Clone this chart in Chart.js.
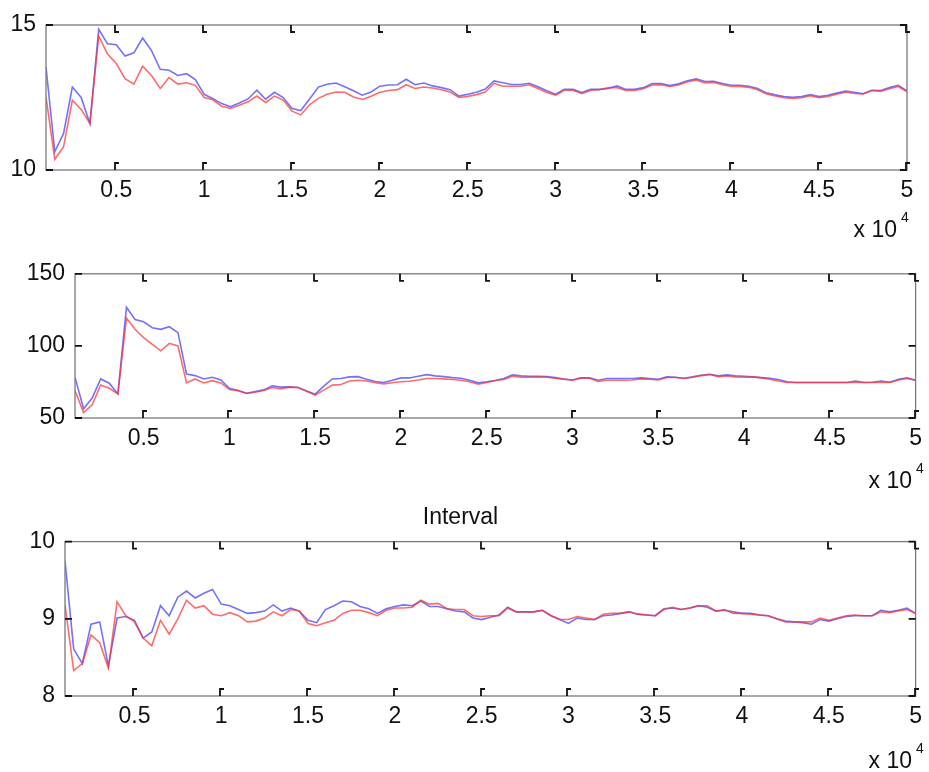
<!DOCTYPE html>
<html>
<head>
<meta charset="utf-8">
<script src="https://cdn.jsdelivr.net/npm/chart.js@4.4.1/dist/chart.umd.min.js"></script>
<style>
  body { margin: 0; background: #fff; }
  #wrap { position: relative; width: 929px; height: 772px; }
  canvas { position: absolute; left: 0; }
</style>
</head>
<body>
<div id="wrap">
  <canvas id="c1" width="929" height="250" style="top:0px"></canvas>
  <canvas id="c2" width="929" height="250" style="top:250px"></canvas>
  <canvas id="c3" width="929" height="272" style="top:500px"></canvas>
</div>
<script>
// sample positions (iterations)
const xValues = [
  1000, 1500, 2000, 2500, 3000, 3500, 4000, 4500, 5000, 5500,
  6000, 6500, 7000, 7500, 8000, 8500, 9000, 9500, 10000, 10500,
  11000, 11500, 12000, 12500, 13000, 13500, 14000, 14500, 15000, 15500,
  16000, 16500, 17000, 17500, 18000, 18500, 19000, 19500, 20000, 20500,
  21000, 21500, 22000, 22500, 23000, 23500, 24000, 24500, 25000, 25500,
  26000, 26500, 27000, 27500, 28000, 28500, 29000, 29500, 30000, 30500,
  31000, 31500, 32000, 32500, 33000, 33500, 34000, 34500, 35000, 35500,
  36000, 36500, 37000, 37500, 38000, 38500, 39000, 39500, 40000, 40500,
  41000, 41500, 42000, 42500, 43000, 43500, 44000, 44500, 45000, 45500,
  46000, 46500, 47000, 47500, 48000, 48500, 49000, 49500, 50000
];
const xTicks = [5000, 10000, 15000, 20000, 25000, 30000, 35000, 40000, 45000, 50000];

// panel 1
const p1Blue = [
  13.55, 10.63, 11.26, 12.86, 12.5, 11.6, 14.85, 14.35, 14.32, 13.93,
  14.04, 14.55, 14.12, 13.47, 13.44, 13.26, 13.32, 13.12, 12.61, 12.46,
  12.29, 12.18, 12.31, 12.45, 12.75, 12.44, 12.68, 12.5, 12.12, 12.05,
  12.45, 12.86, 12.96, 13.0, 12.87, 12.73, 12.58, 12.69, 12.89, 12.93,
  12.94, 13.13, 12.94, 13.0, 12.9, 12.84, 12.77, 12.55, 12.61, 12.68,
  12.79, 13.07, 13.01, 12.95, 12.95, 12.99, 12.87, 12.73, 12.61, 12.78,
  12.78, 12.67, 12.78, 12.78, 12.81, 12.9, 12.78, 12.78, 12.84, 12.98,
  12.98, 12.91, 12.97, 13.08, 13.14, 13.05, 13.06, 12.98, 12.92, 12.92,
  12.89, 12.81, 12.66, 12.59, 12.53, 12.51, 12.53, 12.6, 12.53, 12.58,
  12.65, 12.72, 12.68, 12.63, 12.75, 12.74, 12.84, 12.92, 12.73
];
const p1Red = [
  12.52, 10.37, 10.8, 12.41, 12.09, 11.6, 14.62, 14.0, 13.67, 13.15,
  12.96, 13.58, 13.26, 12.81, 13.19, 12.96, 13.01, 12.92, 12.5, 12.42,
  12.2, 12.12, 12.23, 12.35, 12.55, 12.33, 12.55, 12.41, 12.03, 11.9,
  12.25, 12.47, 12.61, 12.69, 12.68, 12.52, 12.43, 12.54, 12.68, 12.74,
  12.77, 12.94, 12.81, 12.86, 12.83, 12.77, 12.69, 12.5, 12.54, 12.6,
  12.69, 12.99, 12.89, 12.89, 12.89, 12.94, 12.81, 12.67, 12.58, 12.75,
  12.75, 12.63, 12.75, 12.77, 12.84, 12.84, 12.74, 12.74, 12.8, 12.93,
  12.94, 12.88, 12.93, 13.04, 13.1, 13.0, 13.02, 12.94, 12.88, 12.88,
  12.85, 12.77, 12.62, 12.55, 12.49, 12.47, 12.49, 12.56, 12.49, 12.54,
  12.61, 12.68, 12.64, 12.62, 12.74, 12.71, 12.8, 12.88, 12.7
];
const p1YTicks = [10, 15];

// panel 2
const p2Blue = [
  78.2, 56.4, 63.8, 77.1, 74.1, 66.7, 126.8, 118.3, 116.7, 112.6,
  111.5, 113.3, 109.2, 80.5, 79.4, 77.1, 78.2, 76.4, 70.6, 69.0,
  67.2, 68.4, 69.5, 72.3, 71.4, 71.6, 71.1, 68.8, 66.5, 72.1,
  77.1, 77.4, 78.5, 78.7, 76.9, 75.3, 74.6, 76.2, 77.8, 77.8,
  79.0, 80.1, 79.2, 78.7, 78.0, 77.6, 76.2, 74.4, 75.1, 76.0,
  77.4, 79.9, 79.2, 79.0, 79.0, 78.7, 78.0, 77.1, 76.4, 77.8,
  77.8, 76.2, 77.4, 77.4, 77.4, 77.4, 77.8, 77.4, 76.9, 78.5,
  78.3, 77.6, 78.5, 79.6, 80.3, 79.2, 79.9, 79.2, 79.0, 78.5,
  78.0, 77.6, 76.7, 75.1, 74.6, 74.6, 74.6, 74.6, 74.6, 74.6,
  74.6, 75.7, 74.6, 74.8, 75.7, 74.8, 76.9, 77.8, 76.2
];
const p2Red = [
  69.0, 53.7, 59.2, 72.9, 70.6, 66.7, 119.3, 111.5, 105.7, 101.1,
  96.6, 101.8, 100.0, 74.3, 77.1, 74.3, 75.9, 74.3, 69.7, 69.0,
  67.0, 67.9, 69.1, 71.1, 70.2, 71.4, 71.1, 68.6, 65.9, 69.3,
  72.8, 73.2, 75.7, 76.2, 75.7, 74.4, 73.7, 74.4, 75.1, 75.5,
  76.4, 77.4, 77.4, 77.1, 76.7, 76.2, 75.1, 73.5, 74.6, 76.0,
  76.7, 79.0, 78.3, 78.3, 78.5, 78.3, 77.6, 76.9, 76.2, 77.8,
  77.6, 75.3, 76.2, 76.2, 76.2, 76.4, 77.1, 76.9, 76.4, 78.1,
  78.1, 77.4, 78.3, 79.4, 80.1, 78.7, 79.2, 78.5, 78.3, 78.5,
  77.8, 76.9, 75.7, 74.6, 74.6, 74.6, 74.6, 74.6, 74.6, 74.6,
  74.6, 74.8, 74.6, 74.6, 74.8, 74.6, 76.4, 77.4, 76.2
];
const p2YTicks = [50, 100, 150];

// panel 3 (Interval)
const p3Blue = [
  9.75, 8.61, 8.42, 8.93, 8.96, 8.39, 9.01, 9.03, 8.98, 8.75,
  8.83, 9.17, 9.04, 9.28, 9.36, 9.27, 9.33, 9.38, 9.19, 9.17,
  9.12, 9.07, 9.08, 9.10, 9.18, 9.10, 9.14, 9.10, 8.98, 8.95,
  9.12, 9.17, 9.23, 9.22, 9.16, 9.13, 9.07, 9.13, 9.16, 9.18,
  9.17, 9.23, 9.16, 9.16, 9.13, 9.10, 9.09, 9.01, 8.99, 9.02,
  9.05, 9.15, 9.09, 9.09, 9.09, 9.11, 9.04, 8.99, 8.94, 9.01,
  8.99, 8.99, 9.04, 9.05, 9.07, 9.09, 9.06, 9.05, 9.04, 9.13,
  9.14, 9.12, 9.14, 9.17, 9.15, 9.10, 9.11, 9.09, 9.07, 9.07,
  9.05, 9.04, 9.00, 8.97, 8.96, 8.95, 8.93, 8.99, 8.97, 9.0,
  9.03, 9.04, 9.04, 9.04, 9.11, 9.09, 9.11, 9.14, 9.07
];
const p3Red = [
  9.18, 8.33, 8.42, 8.79, 8.69, 8.36, 9.22, 9.04, 8.96, 8.75,
  8.65, 8.98, 8.80, 9.0, 9.24, 9.14, 9.17, 9.06, 9.04, 9.08,
  9.04, 8.96, 8.97, 9.01, 9.09, 9.04, 9.12, 9.10, 8.94, 8.91,
  8.95, 8.98, 9.07, 9.11, 9.11, 9.08, 9.04, 9.11, 9.14, 9.14,
  9.15, 9.24, 9.19, 9.20, 9.13, 9.12, 9.12, 9.04, 9.03, 9.04,
  9.04, 9.14, 9.09, 9.09, 9.09, 9.11, 9.04, 8.99, 8.99, 9.03,
  9.01, 8.99, 9.06, 9.07, 9.07, 9.09, 9.06, 9.05, 9.04, 9.12,
  9.15, 9.12, 9.14, 9.17, 9.17, 9.10, 9.12, 9.07, 9.07, 9.06,
  9.05, 9.04, 9.0, 8.96, 8.96, 8.96, 8.96, 9.01, 8.98, 9.01,
  9.04, 9.05, 9.04, 9.04, 9.09, 9.08, 9.10, 9.12, 9.07
];
const p3YTicks = [8, 9, 10];

const FONT = '"Liberation Sans", Arial, Helvetica, sans-serif';
const BLUE = 'rgba(60, 60, 255, 0.72)';
const RED = 'rgba(255, 50, 50, 0.72)';

function toPoints(arr) {
    return xValues.map((x, i) => ({ x: x, y: arr[i] }));
}

// box, inward ticks and the "x 10^4" exponent, matlab style
const matlabAxes = {
    id: 'matlabAxes',
    afterDraw(chart, args, opts) {
        const ctx = chart.ctx;
        const a = chart.chartArea;
        const x = chart.scales.x;
        const y = chart.scales.y;
        ctx.save();
        ctx.strokeStyle = '#7a7a7a';
        ctx.lineWidth = 1.3;
        ctx.strokeRect(a.left, a.top, a.right - a.left, a.bottom - a.top);

        ctx.strokeStyle = '#111';
        ctx.lineWidth = 1.8;
        const len = 7, foot = 4;
        ctx.beginPath();
        x.ticks.forEach(t => {
            const px = Math.round(x.getPixelForValue(t.value)) - 1;
            ctx.moveTo(px, a.bottom); ctx.lineTo(px, a.bottom - len); ctx.lineTo(px + foot, a.bottom - len);
            ctx.moveTo(px, a.top); ctx.lineTo(px, a.top + len); ctx.lineTo(px + foot, a.top + len);
        });
        y.ticks.forEach(t => {
            const py = y.getPixelForValue(t.value);
            ctx.moveTo(a.left, py); ctx.lineTo(a.left + len, py);
            ctx.moveTo(a.right, py); ctx.lineTo(a.right - len, py);
        });
        ctx.stroke();

        ctx.fillStyle = '#111';
        ctx.textBaseline = 'alphabetic';
        ctx.textAlign = 'right';
        ctx.font = '23px ' + FONT;
        ctx.fillText('x 10', opts.expX, opts.expY);
        ctx.textAlign = 'left';
        ctx.font = '14px ' + FONT;
        ctx.fillText('4', opts.expX + 4, opts.expY - 15);
        ctx.restore();
    }
};

function makeChart(id, cfg) {
    return new Chart(document.getElementById(id), {
        type: 'line',
        data: {
            datasets: [
                { data: toPoints(cfg.red), borderColor: RED, borderWidth: 1.6, pointRadius: 0, tension: 0, fill: false },
                { data: toPoints(cfg.blue), borderColor: BLUE, borderWidth: 1.6, pointRadius: 0, tension: 0, fill: false }
            ]
        },
        options: {
            responsive: false,
            animation: false,
            events: [],
            layout: { padding: cfg.padding },
            plugins: {
                legend: { display: false },
                tooltip: { enabled: false },
                title: {
                    display: !!cfg.title,
                    text: cfg.title || '',
                    color: '#111',
                    font: { family: FONT, size: 23, weight: 'normal', lineHeight: 1.2 },
                    padding: { top: 4, bottom: 10 }
                },
                matlabAxes: { expX: cfg.expX, expY: cfg.expY }
            },
            scales: {
                x: {
                    type: 'linear',
                    min: 1000,
                    max: 50000,
                    afterBuildTicks: function(s) { s.ticks = xTicks.map(v => ({ value: v })); },
                    afterFit: function(s) { s.height = cfg.xHeight; },
                    grid: { display: false, drawTicks: false },
                    border: { display: false },
                    ticks: {
                        autoSkip: false,
                        maxRotation: 0,
                        padding: 7,
                        color: '#111',
                        font: { family: FONT, size: 23 },
                        callback: function(v) { return String(v / 10000); }
                    }
                },
                y: {
                    min: cfg.yTicks[0],
                    max: cfg.yTicks[cfg.yTicks.length - 1],
                    afterBuildTicks: function(s) { s.ticks = cfg.yTicks.map(v => ({ value: v })); },
                    afterFit: function(s) { s.width = cfg.yWidth; },
                    grid: { display: false, drawTicks: false },
                    border: { display: false },
                    ticks: {
                        padding: 10,
                        color: '#111',
                        font: { family: FONT, size: 23 }
                    }
                }
            }
        },
        plugins: [matlabAxes]
    });
}

makeChart('c1', {
    blue: p1Blue, red: p1Red, yTicks: p1YTicks,
    padding: { left: 0, top: 25, right: 22, bottom: 0 },
    yWidth: 46, xHeight: 80, expX: 897, expY: 237
});
makeChart('c2', {
    blue: p2Blue, red: p2Red, yTicks: p2YTicks,
    padding: { left: 0, top: 23, right: 8, bottom: 0 },
    yWidth: 75, xHeight: 82, expX: 912, expY: 238
});
makeChart('c3', {
    blue: p3Blue, red: p3Red, yTicks: p3YTicks, title: 'Interval',
    padding: { left: 0, top: 0, right: 8, bottom: 0 },
    yWidth: 65, xHeight: 76, expX: 912, expY: 268
});
</script>
</body>
</html>
